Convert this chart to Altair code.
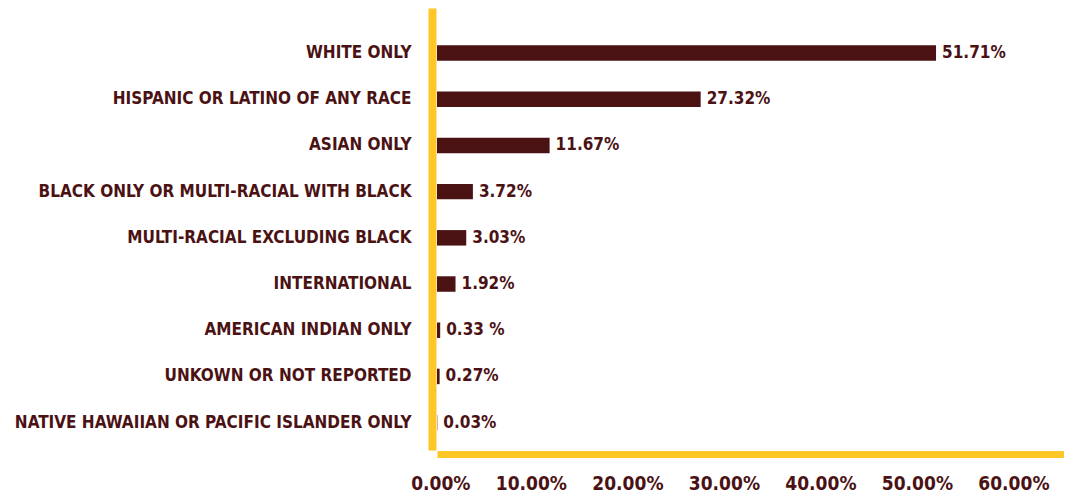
import altair as alt
import pandas as pd

categories = [
    "WHITE ONLY",
    "HISPANIC OR LATINO OF ANY RACE",
    "ASIAN ONLY",
    "BLACK ONLY OR MULTI-RACIAL WITH BLACK",
    "MULTI-RACIAL EXCLUDING BLACK",
    "INTERNATIONAL",
    "AMERICAN INDIAN ONLY",
    "UNKOWN OR NOT REPORTED",
    "NATIVE HAWAIIAN OR PACIFIC ISLANDER ONLY",
]
values = [51.71, 27.32, 11.67, 3.72, 3.03, 1.92, 0.33, 0.27, 0.03]
value_labels = ["51.71%", "27.32%", "11.67%", "3.72%", "3.03%", "1.92%", "0.33 %", "0.27%", "0.03%"]
tick_values = [0, 10, 20, 30, 40, 50, 60]

MAROON = "#4B1214"
GOLD = "#FFC627"
FONT = "DejaVu Sans Condensed"

df = pd.DataFrame({"category": categories, "value": values, "label": value_labels})

x_enc = alt.X(
    "value:Q",
    scale=alt.Scale(domain=[0, 64.97], nice=False, zero=True),
    axis=alt.Axis(
        values=tick_values,
        labelExpr="format(datum.value, '.2f') + '%'",
        title=None,
        grid=False,
        ticks=False,
        tickSize=0,
        domainColor=GOLD,
        domainWidth=7,
        offset=4,
        labelAlign="right",
        labelOffset=33,
        labelBaseline="alphabetic",
        labelPadding=35,
        labelFont=FONT,
        labelFontSize=19,
        labelFontWeight="bold",
        labelColor=MAROON,
    ),
)
y_enc = alt.Y(
    "category:N",
    sort=categories,
    scale=alt.Scale(paddingInner=0.665, paddingOuter=0.616, align=0.655),
    axis=alt.Axis(
        title=None,
        ticks=False,
        tickSize=0,
        domainColor=GOLD,
        domainWidth=8,
        offset=5,
        labelPadding=21,
        labelLimit=0,
        labelFont=FONT,
        labelFontSize=17,
        labelFontWeight="bold",
        labelColor=MAROON,
        labelBaseline="middle",
    ),
)

bars = alt.Chart(df).mark_bar(color=MAROON).encode(x=x_enc, y=y_enc)
texts = alt.Chart(df).mark_text(
    align="left", baseline="middle", dx=6, font=FONT, fontSize=17, fontWeight="bold", color=MAROON
).encode(x="value:Q", y=alt.Y("category:N", sort=categories), text="label:N")

chart = (
    alt.layer(bars, texts)
    .properties(
        width=627,
        height=442,
        autosize=alt.AutoSizeParams(type="none"),
        padding={"left": 429, "top": 0, "right": 0, "bottom": 42},
    )
    .configure_view(stroke=None)
)

chart.save("out.html", embed_options={"renderer": "svg", "actions": False})
